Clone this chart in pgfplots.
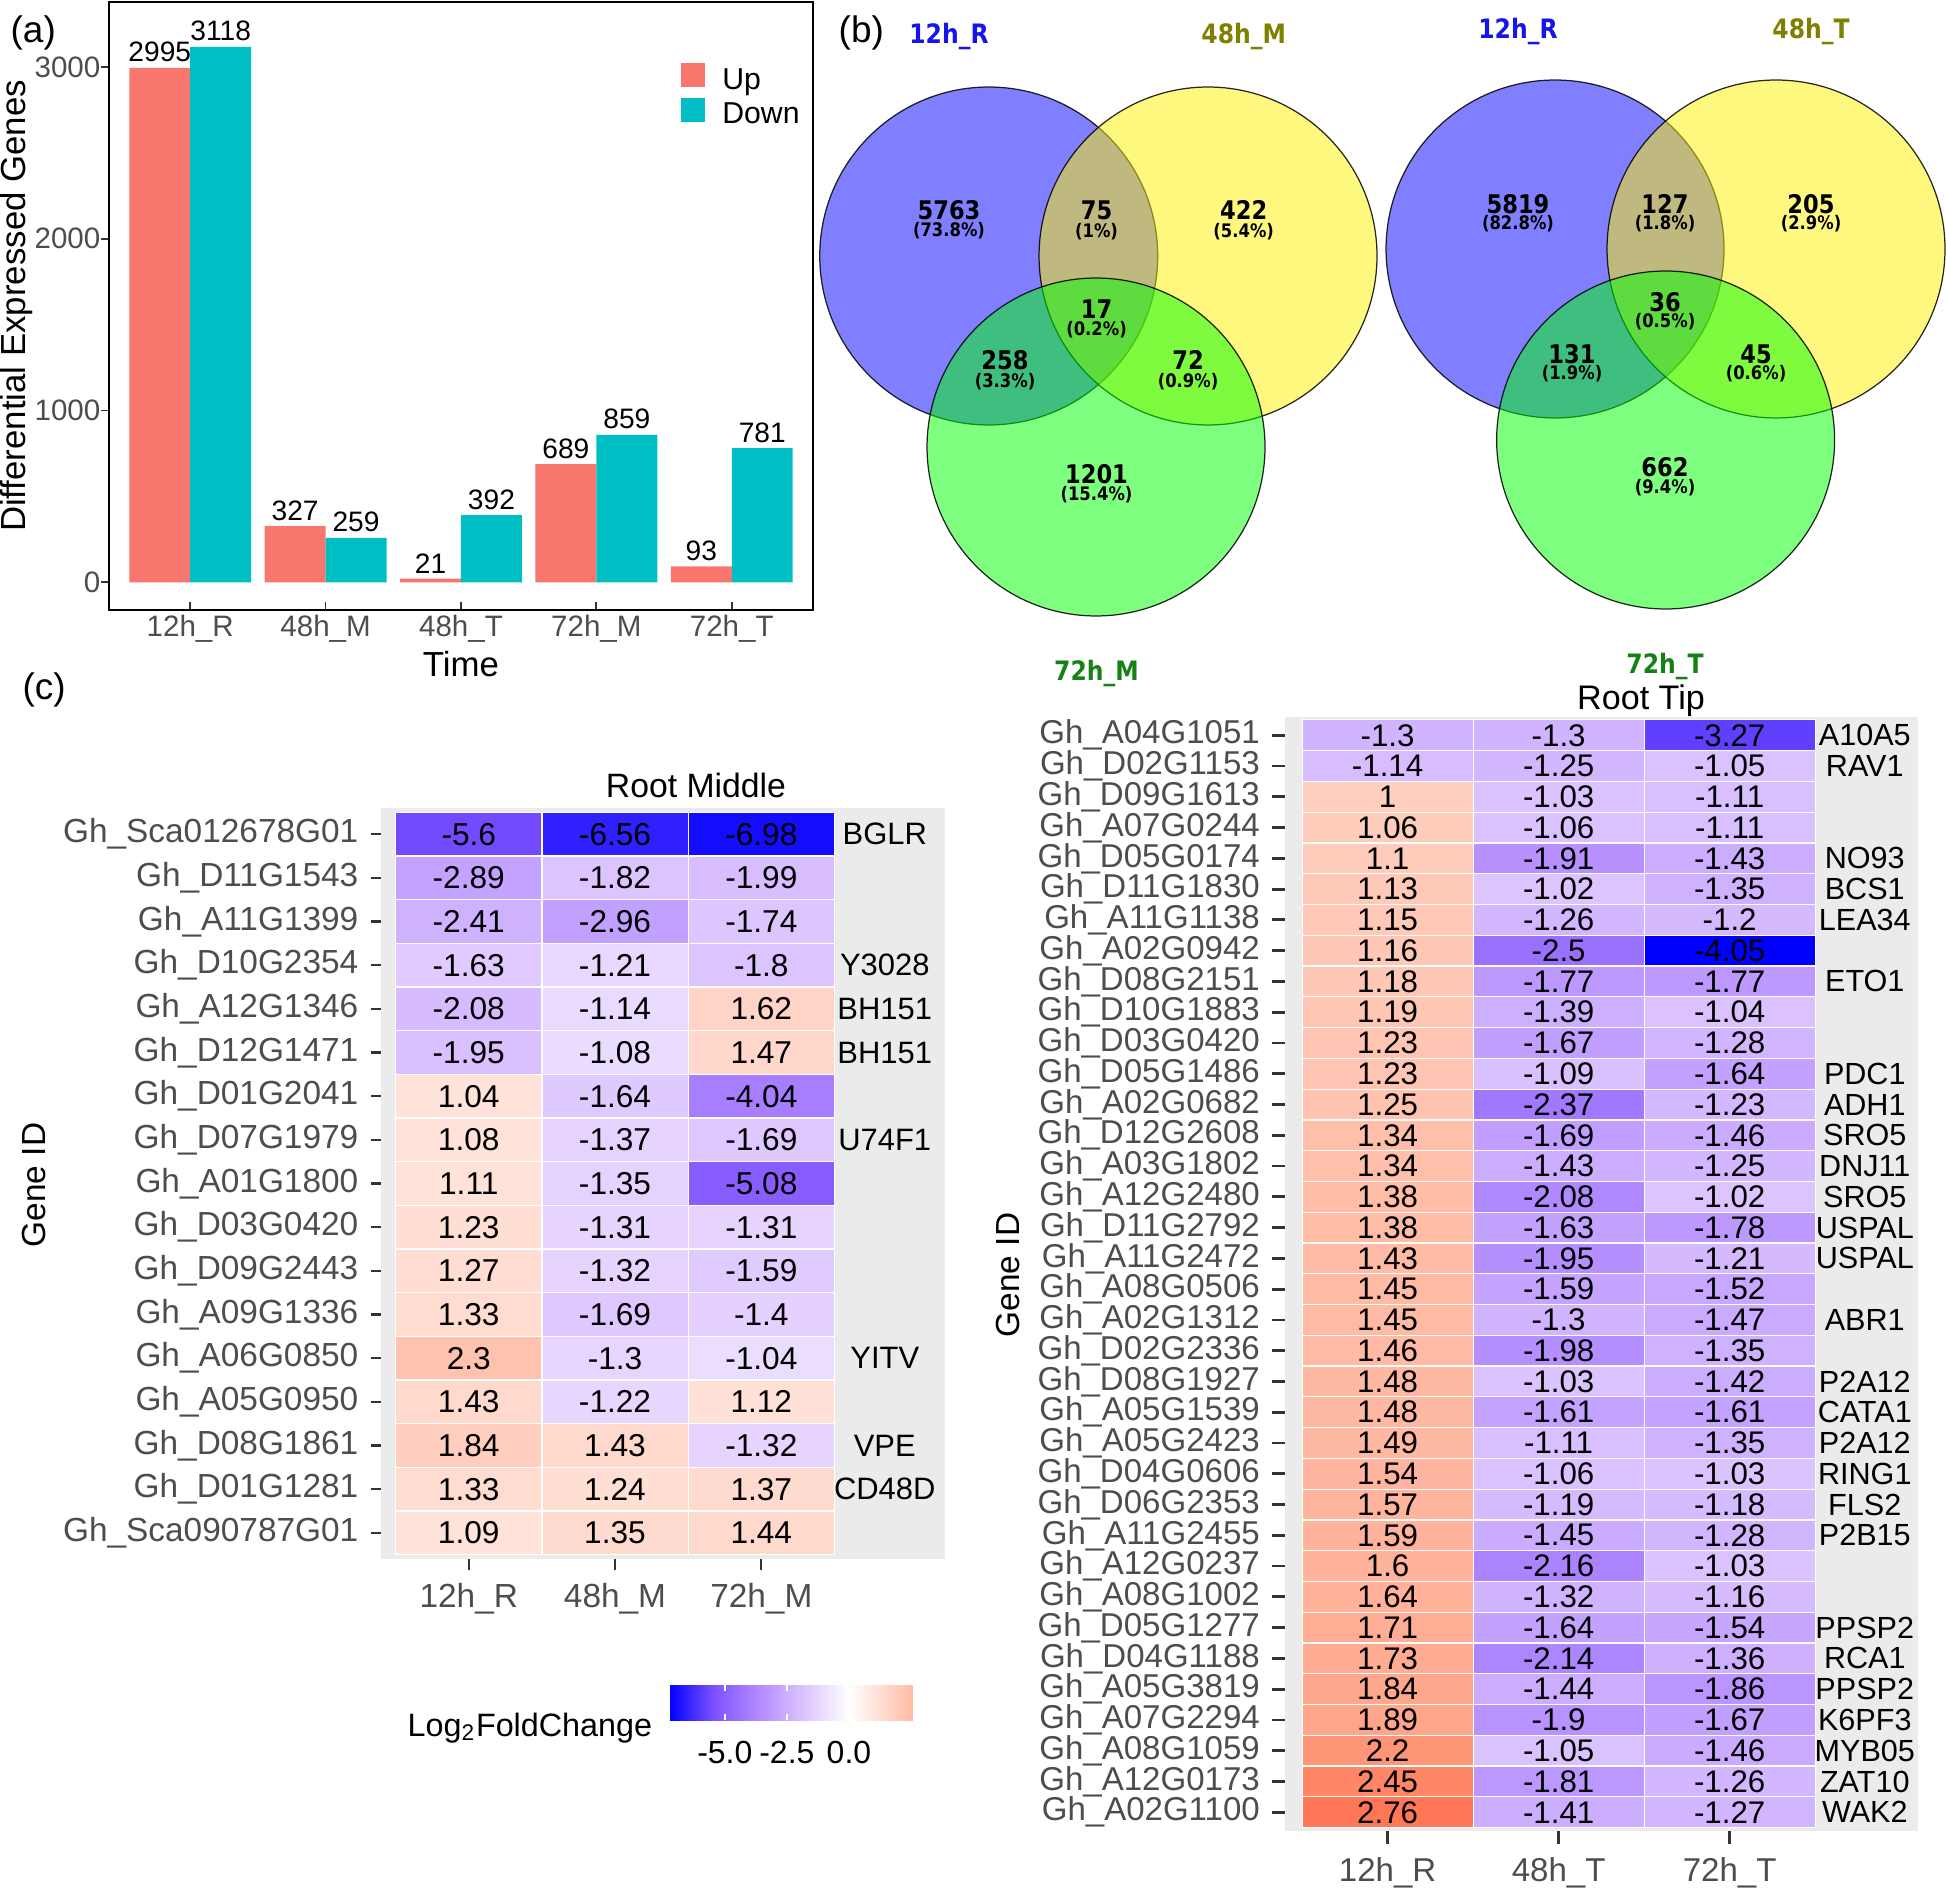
\documentclass[border=0pt]{standalone}
\usepackage{fontspec}
\setmainfont{Liberation Sans}
\newfontfamily\vennfont{DejaVu Sans}[FakeStretch=0.88]
\usepackage{pgfplots}
\pgfplotsset{compat=1.18}
\usepackage{pgfplotstable}

\newcommand\fs[1]{\fontsize{#1}{#1}\selectfont}

\definecolor{upc}{HTML}{F8766D}
\definecolor{downc}{HTML}{00BFC4}
\definecolor{g30}{HTML}{4D4D4D}
\definecolor{g20}{HTML}{333333}
\definecolor{g92}{HTML}{EBEBEB}
\definecolor{vlb}{RGB}{20,20,235}
\definecolor{vly}{RGB}{128,128,0}
\definecolor{vlg}{RGB}{20,130,20}

\pgfplotsset{
  colormap={hmL}{rgb255(0cm)=(0,0,255) rgb255(1.8125cm)=(126,82,255) rgb255(3.625cm)=(179,139,255) rgb255(5.4375cm)=(220,196,255) rgb255(7.25cm)=(255,255,255) rgb255(9.0625cm)=(255,207,191) rgb255(9.83cm)=(255,186,165)},
  colormap={hmR}{rgb255(0cm)=(0,0,255) rgb255(1.0125cm)=(126,82,255) rgb255(2.025cm)=(179,139,255) rgb255(3.0375cm)=(220,196,255) rgb255(4.05cm)=(255,255,255) rgb255(5.0625cm)=(255,207,191) rgb255(6.075cm)=(255,158,129) rgb255(6.81cm)=(255,119,86)},
}

\pgfdeclareplotmark{cellL}{\pgfpathrectangle{\pgfpoint{-7.3125mm}{-2.183mm}}{\pgfpoint{14.625mm}{4.366mm}}\pgfusepathqfillstroke}
\pgfdeclareplotmark{cellR}{\pgfpathrectangle{\pgfpoint{-8.55mm}{-1.5385mm}}{\pgfpoint{17.1mm}{3.077mm}}\pgfusepathqfillstroke}

\pgfplotstableread{
x y v
1 17 -5.6
2 17 -6.56
3 17 -6.98
1 16 -2.89
2 16 -1.82
3 16 -1.99
1 15 -2.41
2 15 -2.96
3 15 -1.74
1 14 -1.63
2 14 -1.21
3 14 -1.8
1 13 -2.08
2 13 -1.14
3 13 1.62
1 12 -1.95
2 12 -1.08
3 12 1.47
1 11 1.04
2 11 -1.64
3 11 -4.04
1 10 1.08
2 10 -1.37
3 10 -1.69
1 9 1.11
2 9 -1.35
3 9 -5.08
1 8 1.23
2 8 -1.31
3 8 -1.31
1 7 1.27
2 7 -1.32
3 7 -1.59
1 6 1.33
2 6 -1.69
3 6 -1.4
1 5 2.3
2 5 -1.3
3 5 -1.04
1 4 1.43
2 4 -1.22
3 4 1.12
1 3 1.84
2 3 1.43
3 3 -1.32
1 2 1.33
2 2 1.24
3 2 1.37
1 1 1.09
2 1 1.35
3 1 1.44
}\tabL

\pgfplotstableread{
x y lab
3.844 17 BGLR
3.844 14 Y3028
3.844 13 BH151
3.844 12 BH151
3.844 10 U74F1
3.844 5 YITV
3.844 3 VPE
3.844 2 CD48D
}\annL

\pgfplotstableread{
x y v
1 36 -1.3
2 36 -1.3
3 36 -3.27
1 35 -1.14
2 35 -1.25
3 35 -1.05
1 34 1
2 34 -1.03
3 34 -1.11
1 33 1.06
2 33 -1.06
3 33 -1.11
1 32 1.1
2 32 -1.91
3 32 -1.43
1 31 1.13
2 31 -1.02
3 31 -1.35
1 30 1.15
2 30 -1.26
3 30 -1.2
1 29 1.16
2 29 -2.5
3 29 -4.05
1 28 1.18
2 28 -1.77
3 28 -1.77
1 27 1.19
2 27 -1.39
3 27 -1.04
1 26 1.23
2 26 -1.67
3 26 -1.28
1 25 1.23
2 25 -1.09
3 25 -1.64
1 24 1.25
2 24 -2.37
3 24 -1.23
1 23 1.34
2 23 -1.69
3 23 -1.46
1 22 1.34
2 22 -1.43
3 22 -1.25
1 21 1.38
2 21 -2.08
3 21 -1.02
1 20 1.38
2 20 -1.63
3 20 -1.78
1 19 1.43
2 19 -1.95
3 19 -1.21
1 18 1.45
2 18 -1.59
3 18 -1.52
1 17 1.45
2 17 -1.3
3 17 -1.47
1 16 1.46
2 16 -1.98
3 16 -1.35
1 15 1.48
2 15 -1.03
3 15 -1.42
1 14 1.48
2 14 -1.61
3 14 -1.61
1 13 1.49
2 13 -1.11
3 13 -1.35
1 12 1.54
2 12 -1.06
3 12 -1.03
1 11 1.57
2 11 -1.19
3 11 -1.18
1 10 1.59
2 10 -1.45
3 10 -1.28
1 9 1.6
2 9 -2.16
3 9 -1.03
1 8 1.64
2 8 -1.32
3 8 -1.16
1 7 1.71
2 7 -1.64
3 7 -1.54
1 6 1.73
2 6 -2.14
3 6 -1.36
1 5 1.84
2 5 -1.44
3 5 -1.86
1 4 1.89
2 4 -1.9
3 4 -1.67
1 3 2.2
2 3 -1.05
3 3 -1.46
1 2 2.45
2 2 -1.81
3 2 -1.26
1 1 2.76
2 1 -1.41
3 1 -1.27
}\tabR

\pgfplotstableread{
x y lab
3.79 36 A10A5
3.79 35 RAV1
3.79 32 NO93
3.79 31 BCS1
3.79 30 LEA34
3.79 28 ETO1
3.79 25 PDC1
3.79 24 ADH1
3.79 23 SRO5
3.79 22 DNJ11
3.79 21 SRO5
3.79 20 USPAL
3.79 19 USPAL
3.79 17 ABR1
3.79 15 P2A12
3.79 14 CATA1
3.79 13 P2A12
3.79 12 RING1
3.79 11 FLS2
3.79 10 P2B15
3.79 7 PPSP2
3.79 6 RCA1
3.79 5 PPSP2
3.79 4 K6PF3
3.79 3 MYB05
3.79 2 ZAT10
3.79 1 WAK2
}\annR

\begin{document}
\begin{tikzpicture}
\useasboundingbox (0,0) rectangle (194.6mm,-188.9mm);

% ---------------- panel (a) ----------------
\begin{axis}[
  at={(10.9mm,-0.2mm)}, anchor=north west,
  scale only axis, width=70.4mm, height=60.8mm,
  xmin=0.4, xmax=5.6, ymin=-161, ymax=3379,
  ybar=0pt, bar width=0.45,
  xtick={1,2,3,4,5}, xticklabels={12h\_R,48h\_M,48h\_T,72h\_M,72h\_T},
  ytick={0,1000,2000,3000},
  xtick pos=left, ytick pos=left,
  ytick align=outside, xtick align=inside, major tick length=0.8mm,
  tick style={g20, line width=0.5pt},
  axis line style={black, line width=0.6pt},
  tick label style={font=\fs{8.4}, text=g30},
  xticklabel style={inner sep=0pt, yshift=-0.4mm},
  yticklabel style={inner sep=0pt},
  /pgf/number format/assume math mode=true, /pgf/number format/1000 sep={},
  xlabel={Time}, ylabel={Differential Expressed Genes},
  every axis x label/.style={at={(axis description cs:0.5,-0.0888)}, anchor=center, font=\fs{9.9}},
  every axis y label/.style={at={(axis description cs:-0.1307,0.5)}, anchor=center, rotate=90, font=\fs{9.9}},
  nodes near coords,
  every node near coord/.append style={font=\fs{8}, text=black, inner sep=0pt, anchor=south, yshift=0.5mm},
  legend style={at={(rel axis cs:0.812,0.9)}, anchor=north west, draw=none, fill=none, inner sep=0pt,
     font=\fs{8.6}, row sep=0.25mm,
     nodes={inner sep=0pt, text=black, text height=2.1mm, text depth=0.55mm},
     /tikz/every odd column/.append style={column sep=1.7mm}},
  legend image code/.code={\draw[#1, draw=none] (0mm,-0.55mm) rectangle (2.4mm,1.85mm);},
  legend cell align=left,
]
\addplot[fill=upc, draw=none] coordinates {(1,2995) (2,327) (3,21) (4,689) (5,93)};
\addplot[fill=downc, draw=none] coordinates {(1,3118) (2,259) (3,392) (4,859) (5,781)};
\legend{Up,Down}
\end{axis}

% ---------------- left heatmap ----------------
\begin{axis}[
  at={(38.1mm,-80.8mm)}, anchor=north west,
  scale only axis, width=56.4mm, height=75.1mm,
  xmin=0.4, xmax=4.256, ymin=0.4, ymax=17.6,
  axis lines*=left, axis line style={draw=none},
  axis background/.style={fill=g92},
  clip=false,
  xtick={1,2,3}, xticklabels={12h\_R,48h\_M,72h\_M},
  ytick={1,...,17},
  yticklabels={Gh\_Sca090787G01,Gh\_D01G1281,Gh\_D08G1861,Gh\_A05G0950,Gh\_A06G0850,Gh\_A09G1336,Gh\_D09G2443,Gh\_D03G0420,Gh\_A01G1800,Gh\_D07G1979,Gh\_D01G2041,Gh\_D12G1471,Gh\_A12G1346,Gh\_D10G2354,Gh\_A11G1399,Gh\_D11G1543,Gh\_Sca012678G01},
  tick align=outside, major tick length=1.05mm,
  tick style={g20, line width=0.6pt},
  tick label style={font=\fs{9.5}, text=g30},
  yticklabel style={inner sep=1pt, xshift=-0.8mm},
  xticklabel style={inner sep=1pt, yshift=-1mm},
  colormap name=hmL, point meta min=-7.25, point meta max=2.58,
  colorbar horizontal,
  colorbar style={
    at={(parent axis.south west)}, anchor=north west, xshift=28.8mm, yshift=-9.6mm,
    scale only axis, width=24.4mm, height=3.5mm,
    xtick={-5,-2.5,0}, xticklabels={-5.0,-2.5,0.0},
    xtick pos=both, xticklabel pos=left,
    tick align=inside, major tick length=0.6mm,
    xtick style={white, line width=0.5pt},
    axis line style={draw=none},
    xticklabel style={font=\fs{9.1}, text=black, inner sep=0pt, yshift=-2.0mm},
  },
]
\addplot[scatter, only marks, mark=cellL, point meta=explicit,
  scatter/use mapped color={draw=white, fill=mapped color}, mark options={line width=0.35pt}]
  table[meta=v] {\tabL};
\addplot[draw=none, mark=none, nodes near coords={\pgfplotspointmeta}, point meta=explicit symbolic,
  nodes near coords align=center,
  every node near coord/.style={anchor=center, font=\fs{9}, text=black, inner sep=0pt}]
  table[meta=v] {\tabL};
\addplot[draw=none, mark=none, nodes near coords={\pgfplotspointmeta}, point meta=explicit symbolic,
  nodes near coords align=center,
  every node near coord/.style={anchor=center, font=\fs{8.8}, text=black, inner sep=0pt}]
  table[meta=lab] {\annL};
\end{axis}

% ---------------- right heatmap ----------------
\begin{axis}[
  at={(128.5mm,-71.68mm)}, anchor=north west,
  scale only axis, width=63.26mm, height=111.39mm,
  xmin=0.4, xmax=4.099, ymin=0.4, ymax=36.6,
  axis lines*=left, axis line style={draw=none},
  axis background/.style={fill=g92},
  clip=false,
  xtick={1,2,3}, xticklabels={12h\_R,48h\_T,72h\_T},
  ytick={1,...,36},
  yticklabels={Gh\_A02G1100,Gh\_A12G0173,Gh\_A08G1059,Gh\_A07G2294,Gh\_A05G3819,Gh\_D04G1188,Gh\_D05G1277,Gh\_A08G1002,Gh\_A12G0237,Gh\_A11G2455,Gh\_D06G2353,Gh\_D04G0606,Gh\_A05G2423,Gh\_A05G1539,Gh\_D08G1927,Gh\_D02G2336,Gh\_A02G1312,Gh\_A08G0506,Gh\_A11G2472,Gh\_D11G2792,Gh\_A12G2480,Gh\_A03G1802,Gh\_D12G2608,Gh\_A02G0682,Gh\_D05G1486,Gh\_D03G0420,Gh\_D10G1883,Gh\_D08G2151,Gh\_A02G0942,Gh\_A11G1138,Gh\_D11G1830,Gh\_D05G0174,Gh\_A07G0244,Gh\_D09G1613,Gh\_D02G1153,Gh\_A04G1051},
  tick align=outside, major tick length=1.3mm,
  tick style={g20, line width=0.8pt},
  tick label style={font=\fs{9.4}, text=g30},
  yticklabel style={inner sep=1pt, xshift=-0.8mm},
  xticklabel style={inner sep=1pt, yshift=-1mm},
  colormap name=hmR, point meta min=-4.05, point meta max=2.76,
]
\addplot[scatter, only marks, mark=cellR, point meta=explicit,
  scatter/use mapped color={draw=white, fill=mapped color}, mark options={line width=0.35pt}]
  table[meta=v] {\tabR};
\addplot[draw=none, mark=none, nodes near coords={\pgfplotspointmeta}, point meta=explicit symbolic,
  nodes near coords align=center,
  every node near coord/.style={anchor=center, font=\fs{8.9}, text=black, inner sep=0pt}]
  table[meta=v] {\tabR};
\addplot[draw=none, mark=none, nodes near coords={\pgfplotspointmeta}, point meta=explicit symbolic,
  nodes near coords align=center,
  every node near coord/.style={anchor=center, font=\fs{8.7}, text=black, inner sep=0pt}]
  table[meta=lab] {\annR};
\end{axis}

% ---------------- canvas 1: Venn circles ----------------
\begin{axis}[
  at={(0mm,0mm)}, anchor=north west,
  scale only axis, width=194.6mm, height=188.9mm,
  xmin=0, xmax=1946, ymin=0, ymax=1889, y dir=reverse,
  hide axis, clip=false,
]
\addplot[only marks, mark=*, mark size=48.08pt,
  mark options={fill=blue, fill opacity=0.5, draw=black, draw opacity=0.85, line width=0.35pt}]
  coordinates {(988.7,256) (1555,249)};
\addplot[only marks, mark=*, mark size=48.08pt,
  mark options={fill=yellow, fill opacity=0.5, draw=black, draw opacity=0.85, line width=0.35pt}]
  coordinates {(1208,256) (1776,249)};
\addplot[only marks, mark=*, mark size=48.08pt,
  mark options={fill=green, fill opacity=0.5, draw=black, draw opacity=0.85, line width=0.35pt}]
  coordinates {(1096,447) (1665.6,440)};
\end{axis}

% ---------------- canvas 2: texts ----------------
\begin{axis}[
  at={(0mm,0mm)}, anchor=north west,
  scale only axis, width=194.6mm, height=188.9mm,
  xmin=0, xmax=1946, ymin=0, ymax=1889, y dir=reverse,
  hide axis, clip=false,
]
\tikzset{vbase/.style={anchor=base, inner sep=0pt, opacity=1, fill opacity=1, text opacity=1, draw opacity=1},
         vn/.style={vbase, text=black, font=\vennfont\bfseries\fs{7.3}},
         vp/.style={vbase, text=black, font=\vennfont\bfseries\fs{5.3}},
         vl/.style={vbase, font=\vennfont\bfseries\fs{7.6}}}
% left venn
\node[vl, text=vlb] at (axis cs:949,43) {12h\_R};
\node[vl, text=vly] at (axis cs:1243.7,43) {48h\_M};
\node[vl, text=vlg] at (axis cs:1096.5,680) {72h\_M};
\node[vn] at (axis cs:949,219) {5763};     \node[vp] at (axis cs:949,236.5) {(73.8\%)};
\node[vn] at (axis cs:1096.5,219) {75};    \node[vp] at (axis cs:1096.5,237.5) {(1\%)};
\node[vn] at (axis cs:1243.7,219) {422};   \node[vp] at (axis cs:1243.7,237.5) {(5.4\%)};
\node[vn] at (axis cs:1096.5,318) {17};    \node[vp] at (axis cs:1096.5,335.5) {(0.2\%)};
\node[vn] at (axis cs:1005,369) {258};     \node[vp] at (axis cs:1005,387.5) {(3.3\%)};
\node[vn] at (axis cs:1188,369) {72};      \node[vp] at (axis cs:1188,387.5) {(0.9\%)};
\node[vn] at (axis cs:1096.5,483) {1201};  \node[vp] at (axis cs:1096.5,500.5) {(15.4\%)};
% right venn
\node[vl, text=vlb] at (axis cs:1518,38) {12h\_R};
\node[vl, text=vly] at (axis cs:1811,38) {48h\_T};
\node[vl, text=vlg] at (axis cs:1665,673) {72h\_T};
\node[vn] at (axis cs:1518,213) {5819};    \node[vp] at (axis cs:1518,229.5) {(82.8\%)};
\node[vn] at (axis cs:1665,213) {127};     \node[vp] at (axis cs:1665,229.5) {(1.8\%)};
\node[vn] at (axis cs:1811,213) {205};     \node[vp] at (axis cs:1811,229.5) {(2.9\%)};
\node[vn] at (axis cs:1665,311) {36};      \node[vp] at (axis cs:1665,327.5) {(0.5\%)};
\node[vn] at (axis cs:1572,363) {131};     \node[vp] at (axis cs:1572,379.5) {(1.9\%)};
\node[vn] at (axis cs:1756,363) {45};      \node[vp] at (axis cs:1756,379.5) {(0.6\%)};
\node[vn] at (axis cs:1665,476) {662};     \node[vp] at (axis cs:1665,493.5) {(9.4\%)};

% panel letters and titles
\node[vbase, anchor=base west, font=\fs{10.5}] at (axis cs:10,42) {(a)};
\node[vbase, anchor=base west, font=\fs{10.5}] at (axis cs:838,42) {(b)};
\node[vbase, anchor=base west, font=\fs{10.5}] at (axis cs:22,699) {(c)};
\node[vbase, anchor=base, font=\fs{9.6}] at (axis cs:696,797) {Root Middle};
\node[vbase, anchor=base, font=\fs{9.7}] at (axis cs:1641,709) {Root Tip};
\node[vbase, anchor=center, rotate=90, font=\fs{9.5}] at (axis cs:34,1185) {Gene ID};
\node[vbase, anchor=center, rotate=90, font=\fs{9.5}] at (axis cs:1008,1275) {Gene ID};
\node[vbase, anchor=base west, font=\fs{9.2}] at (axis cs:407,1736) {Log\textsubscript{2}FoldChange};
\end{axis}
\end{tikzpicture}
\end{document}
